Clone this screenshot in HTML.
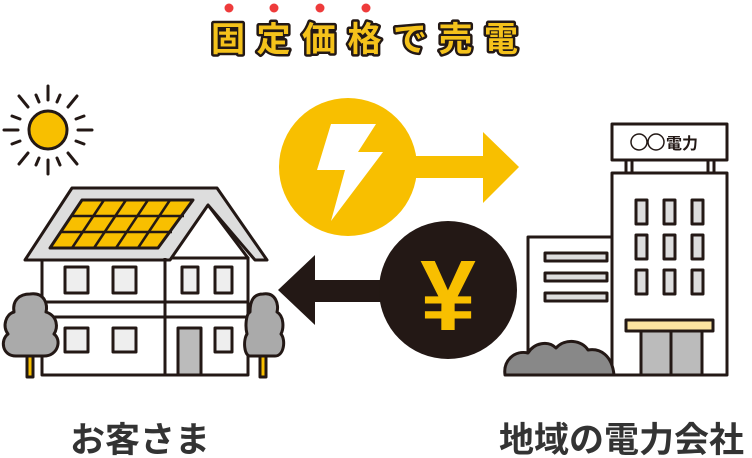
<!DOCTYPE html>
<html><head><meta charset="utf-8"><style>
html,body{margin:0;padding:0;background:#fff;width:752px;height:458px;overflow:hidden}
svg{display:block}
.t{font-family:"Liberation Sans","Noto Sans CJK JP",sans-serif;font-weight:bold}
</style></head><body>
<svg width="752" height="458" viewBox="0 0 752 458">
<g fill="#ee3b3b"><circle cx="229" cy="8" r="4.5"/><circle cx="274" cy="8" r="4.5"/><circle cx="320" cy="8" r="4.5"/><circle cx="366" cy="8" r="4.5"/></g>
<text x="211" y="51" class="t" font-size="34" letter-spacing="11.5" fill="#f5c21b" stroke="#231815" stroke-width="5" paint-order="stroke" stroke-linejoin="round">固定価格で売電</text>

<g stroke="#231815" stroke-width="3" stroke-linecap="round">
<circle cx="48" cy="130" r="19" fill="#f8bf00"/>
<line x1="48" y1="86" x2="48" y2="100"/><line x1="48" y1="160" x2="48" y2="174"/>
<line x1="4" y1="130" x2="18" y2="130"/><line x1="78" y1="130" x2="92" y2="130"/>
<line x1="19" y1="96" x2="28" y2="107"/><line x1="68" y1="153" x2="77" y2="164"/>
<line x1="77" y1="96" x2="68" y2="107"/><line x1="28" y1="153" x2="19" y2="164"/>
<line x1="36" y1="95" x2="39" y2="102"/><line x1="60" y1="95" x2="57" y2="102"/>
<line x1="36" y1="165" x2="39" y2="158"/><line x1="60" y1="165" x2="57" y2="158"/>
<line x1="12" y1="116" x2="20" y2="119"/><line x1="84" y1="116" x2="76" y2="119"/>
<line x1="12" y1="144" x2="20" y2="141"/><line x1="84" y1="144" x2="76" y2="141"/>
</g>

<g stroke="#231815" stroke-width="3" stroke-linejoin="round">
<rect x="42" y="258" width="206" height="117" fill="#fff"/>
<polygon points="165,258 208,205 248,258" fill="#fff"/>
<polygon points="72,188 217,188 267,260 255,260 208,205 170,260 25,260" fill="#ddd"/>
<polygon points="82,200 193,200 158,248 50,248" fill="#f8bf00"/>
<g fill="none" stroke-width="2.5">
<line x1="72" y1="216" x2="184" y2="216"/><line x1="61" y1="232" x2="172" y2="232"/>
<line x1="104" y1="200" x2="72" y2="248"/><line x1="126" y1="200" x2="94" y2="248"/><line x1="148" y1="200" x2="116" y2="248"/><line x1="170" y1="200" x2="138" y2="248"/>
</g>
<line x1="165" y1="258" x2="165" y2="375"/>
<rect x="42" y="302" width="206" height="15" fill="#fff"/>
<line x1="165" y1="302" x2="165" y2="375"/>
<g fill="#eee">
<rect x="65" y="267" width="23" height="26"/><rect x="113" y="267" width="23" height="26"/>
<rect x="182" y="267" width="16" height="26"/><rect x="215" y="267" width="17" height="26"/>
<rect x="65" y="328" width="23" height="24"/><rect x="113" y="328" width="23" height="24"/>
<rect x="215" y="328" width="17" height="24"/>
</g>
<rect x="178" y="328" width="23" height="47" fill="#bbb"/>
</g>
<g stroke="#231815" stroke-width="3" stroke-linejoin="round">
<rect x="27" y="352" width="6" height="25" fill="#f8bf00"/>
<path d="M30,294 C45,292 48,305 46,312 C58,316 58,328 54,334 C62,340 58,356 44,356 L16,356 C2,356 0,340 8,334 C2,326 6,314 14,312 C12,300 20,294 30,294Z" fill="#aaa"/>
<rect x="260" y="352" width="6" height="25" fill="#f8bf00"/>
<path d="M263,294 C276,292 279,305 277,312 C284,316 284,328 281,334 C286,340 284,356 275,356 L250,356 C244,356 243,340 247,334 C245,326 246,314 250,312 C250,300 254,294 263,294Z" fill="#aaa"/>
</g>

<circle cx="348" cy="167" r="69" fill="#f8bf00"/>
<rect x="410" y="156" width="80" height="22" fill="#f8bf00"/>
<polygon points="483,132 519,167 483,203" fill="#f8bf00"/>
<polygon points="331,124 376,124 358,152 383,152 331,221 345,170 317,170" fill="#fff"/>
<rect x="305" y="280" width="90" height="22" fill="#231815"/>
<polygon points="315,255 278,290 315,325" fill="#231815"/>
<circle cx="448" cy="290" r="69" fill="#231815"/>
<text x="448" y="330" text-anchor="middle" class="t" font-size="100" fill="#f8bf00">¥</text>

<g stroke="#231815" stroke-width="3" stroke-linejoin="round">
<rect x="626" y="160" width="6" height="14" fill="#fff"/><rect x="708" y="160" width="6" height="14" fill="#fff"/>
<rect x="612" y="124" width="115" height="36" fill="#fff"/>
<rect x="528" y="237" width="90" height="138" fill="#fff"/>
<rect x="612" y="173" width="115" height="202" fill="#fff"/>
<g fill="#ddd">
<rect x="636" y="200" width="11" height="24"/><rect x="664" y="200" width="11" height="24"/><rect x="692" y="200" width="11" height="24"/>
<rect x="636" y="235" width="11" height="24"/><rect x="664" y="235" width="11" height="24"/><rect x="692" y="235" width="11" height="24"/>
<rect x="636" y="270" width="11" height="24"/><rect x="664" y="270" width="11" height="24"/><rect x="692" y="270" width="11" height="24"/>
<rect x="545" y="253" width="62" height="8"/><rect x="545" y="273" width="62" height="8"/><rect x="545" y="293" width="62" height="8"/>
<rect x="641" y="330" width="30" height="45" fill="#bbb"/><rect x="671" y="330" width="31" height="45" fill="#bbb"/>
</g>
<rect x="626" y="320" width="87" height="11" fill="#fbe3a0"/>
<path d="M505,375 C503,360 515,350 528,353 C534,343 548,340 556,348 C565,338 582,340 588,350 C600,348 612,355 614,375Z" fill="#888"/>
</g>
<g fill="none" stroke="#231815" stroke-width="1.5"><circle cx="639" cy="142" r="8"/><circle cx="656" cy="142" r="8"/></g>
<text x="666" y="149" class="t" font-size="16" fill="#231815">電力</text>

<text x="70" y="452" class="t" font-size="35" fill="#333">お客さま</text>
<text x="499" y="452" class="t" font-size="35" fill="#333">地域の電力会社</text>
</svg>
</body></html>
